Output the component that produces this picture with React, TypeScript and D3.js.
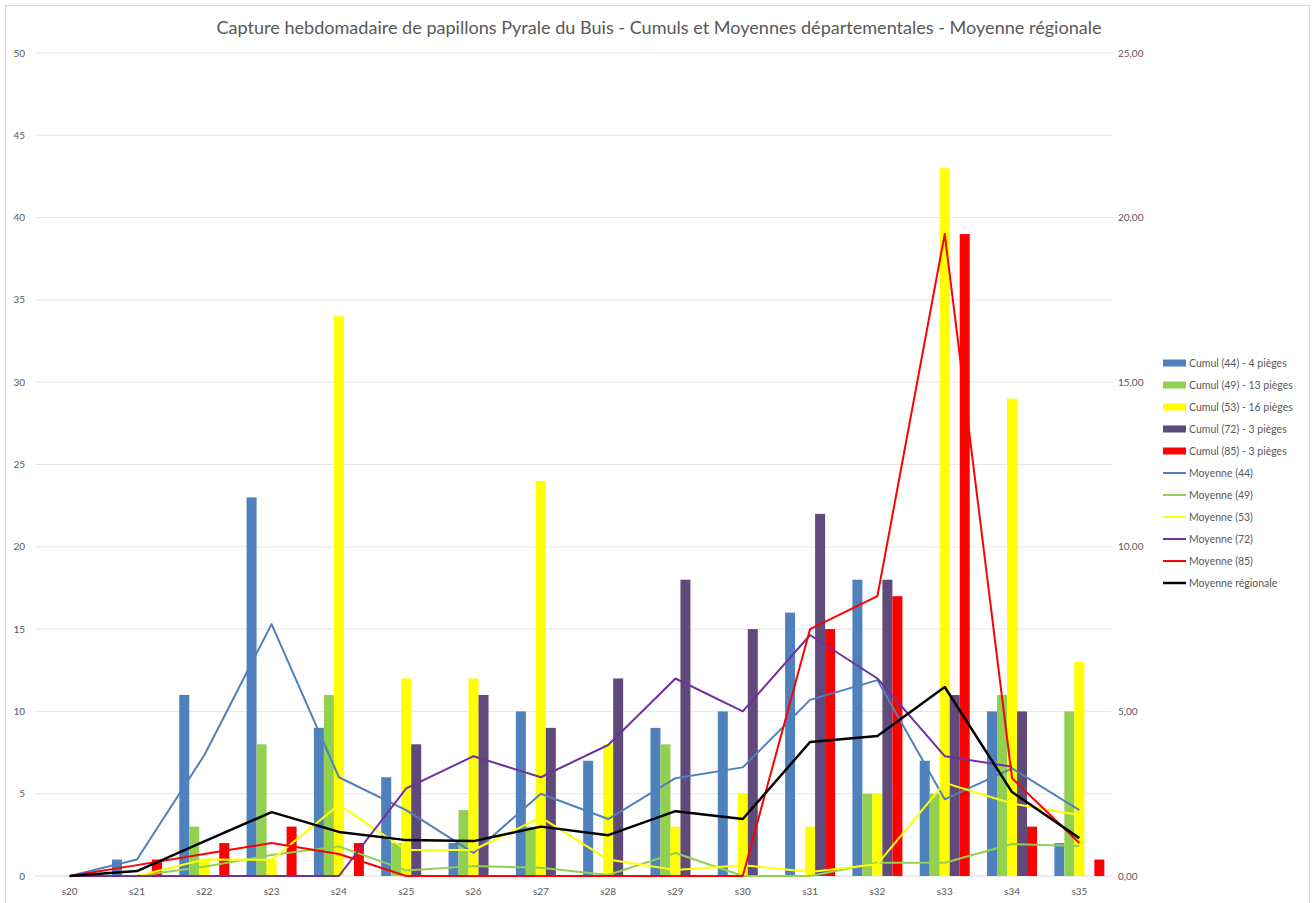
import { line, range, scaleBand, scaleLinear } from "d3";

const weeks = ["s20", "s21", "s22", "s23", "s24", "s25", "s26", "s27", "s28", "s29", "s30", "s31", "s32", "s33", "s34", "s35"];

// cumuls (axe gauche)
const cumul44 = [0, 1, 11, 23, 9, 6, 2, 10, 7, 9, 10, 16, 18, 7, 10, 2];
const cumul49 = [0, 0, 3, 8, 11, 2, 4, 3, 0, 8, 0, 0, 5, 5, 11, 10];
const cumul53 = [0, 0, 1, 1, 34, 12, 12, 24, 8, 3, 5, 3, 5, 43, 29, 13];
const cumul72 = [0, 0, 0, 0, 0, 8, 11, 9, 12, 18, 15, 22, 18, 11, 10, 0];
const cumul85 = [0, 1, 2, 3, 2, 0, 0, 0, 0, 0, 0, 15, 17, 39, 3, 1];

// moyennes (axe droit)
const moy44 = [0, 0.5, 3.67, 7.65, 3.0, 2.0, 0.7, 2.5, 1.73, 2.97, 3.3, 5.35, 5.95, 2.33, 3.27, 2.0];
const moy49 = [0, 0, 0.28, 0.64, 0.9, 0.17, 0.3, 0.25, 0.03, 0.7, 0, 0, 0.4, 0.4, 0.97, 0.91];
const moy53 = [0, 0, 0.5, 0.49, 2.16, 0.79, 0.79, 1.78, 0.5, 0.18, 0.33, 0.12, 0.36, 2.83, 2.2, 1.85];
const moy72: (number | null)[] = [0, 0, 0, 0, 0, 2.66, 3.64, 3.0, 3.98, 6.0, 5.0, 7.32, 6.0, 3.64, 3.32, null];
const moy85 = [0, 0.33, 0.67, 1.0, 0.67, 0, 0, 0, 0, 0, 0, 7.5, 8.5, 19.5, 2.97, 1.0];
const moyReg = [0, 0.15, 1.05, 1.94, 1.34, 1.09, 1.06, 1.5, 1.24, 1.97, 1.73, 4.07, 4.25, 5.74, 2.55, 1.15];

const barSeries = [
  { name: "Cumul (44) - 4 pièges", values: cumul44, color: "#4F81BD" },
  { name: "Cumul (49) - 13 pièges", values: cumul49, color: "#92D050" },
  { name: "Cumul (53) - 16 pièges", values: cumul53, color: "#FFFF00" },
  { name: "Cumul (72) - 3 pièges", values: cumul72, color: "#604A7B" },
  { name: "Cumul (85) - 3 pièges", values: cumul85, color: "#FF0000" },
];

const lineSeries = [
  { name: "Moyenne (44)", values: moy44 as (number | null)[], color: "#4F81BD", width: 2 },
  { name: "Moyenne (49)", values: moy49 as (number | null)[], color: "#92D050", width: 2 },
  { name: "Moyenne (53)", values: moy53 as (number | null)[], color: "#FFFF00", width: 2 },
  { name: "Moyenne (72)", values: moy72, color: "#7030A0", width: 2 },
  { name: "Moyenne (85)", values: moy85 as (number | null)[], color: "#FF0000", width: 2 },
  { name: "Moyenne régionale", values: moyReg as (number | null)[], color: "#000000", width: 2.5 },
];

const leftTicks = range(0, 51, 5);
const rightTicks = range(0, 26, 5);

const W = 1312;
const H = 903;
const left = 36;
const right = 1113;
const top = 53;
const bottom = 876;
const textColor = "#595959";
const font = "Lato, 'Open Sans', sans-serif";

export default function App() {
  const x = scaleBand<string>().domain(weeks).range([left, right]).padding(0);
  const x1 = scaleBand<number>()
    .domain(range(barSeries.length))
    .range([0, x.bandwidth()])
    .paddingInner(0)
    .paddingOuter(0.865);
  const yL = scaleLinear().domain([0, 50]).range([bottom, top]);
  const yR = scaleLinear().domain([0, 25]).range([bottom, top]);
  const cx = (i: number) => (x(weeks[i]) ?? 0) + x.bandwidth() / 2;

  const mkLine = line<number | null>()
    .defined((d) => d !== null)
    .x((_, i) => cx(i))
    .y((d) => yR(d as number));

  return (
    <svg width={W} height={H} style={{ position: "absolute", left: 0, top: 0 }} fontFamily={font}>
      <rect x={0} y={0} width={W} height={H} fill="#fff" />
      <rect x={5.5} y={5.5} width={W - 8} height={H + 10} fill="none" stroke="#d9d9d9" />

      <text x={659} y={34} textAnchor="middle" fontSize={17} fill={textColor} textLength={885} lengthAdjust="spacingAndGlyphs">
        Capture hebdomadaire de papillons Pyrale du Buis - Cumuls et Moyennes départementales - Moyenne régionale
      </text>

      {leftTicks.map((t) => (
        <g key={"g" + t}>
          <line x1={left - 1} x2={right} y1={yL(t)} y2={yL(t)} stroke={t === 0 ? "#d9d9d9" : "#e6e6e6"} strokeWidth={1} />
          <text x={25} y={yL(t)} dy="0.35em" textAnchor="end" fontSize={10} fill={textColor}>
            {t}
          </text>
        </g>
      ))}
      {rightTicks.map((t) => (
        <text key={"r" + t} x={1118} y={yR(t)} dy="0.35em" fontSize={10} fill={textColor}>
          {t.toFixed(2).replace(".", ",")}
        </text>
      ))}

      {weeks.map((w, i) => (
        <text key={w} x={cx(i)} y={891} dy="0.35em" textAnchor="middle" fontSize={10} fill={textColor}>
          {w}
        </text>
      ))}

      {barSeries.map((s, si) => (
        <g key={s.name} fill={s.color}>
          {s.values.map((v, i) => (
            <rect
              key={i}
              x={(x(weeks[i]) ?? 0) + (x1(si) ?? 0)}
              width={x1.bandwidth()}
              y={yL(v)}
              height={bottom - yL(v)}
            />
          ))}
        </g>
      ))}

      {lineSeries.map((s) => (
        <path
          key={s.name}
          d={mkLine(s.values) ?? ""}
          fill="none"
          stroke={s.color}
          strokeWidth={s.width}
          strokeLinejoin="round"
        />
      ))}

      <g fontSize={10.5} fill={textColor}>
        {barSeries.map((s, i) => (
          <g key={s.name} transform={`translate(1163, ${363 + i * 22})`}>
            <rect x={0} y={-3.5} width={23} height={7} fill={s.color} />
            <text x={26} dy="0.35em">{s.name}</text>
          </g>
        ))}
        {lineSeries.map((s, i) => (
          <g key={s.name} transform={`translate(1163, ${363 + (i + 5) * 22})`}>
            <line x1={0} x2={23} stroke={s.color} strokeWidth={s.width} />
            <text x={26} dy="0.35em">{s.name}</text>
          </g>
        ))}
      </g>
    </svg>
  );
}
